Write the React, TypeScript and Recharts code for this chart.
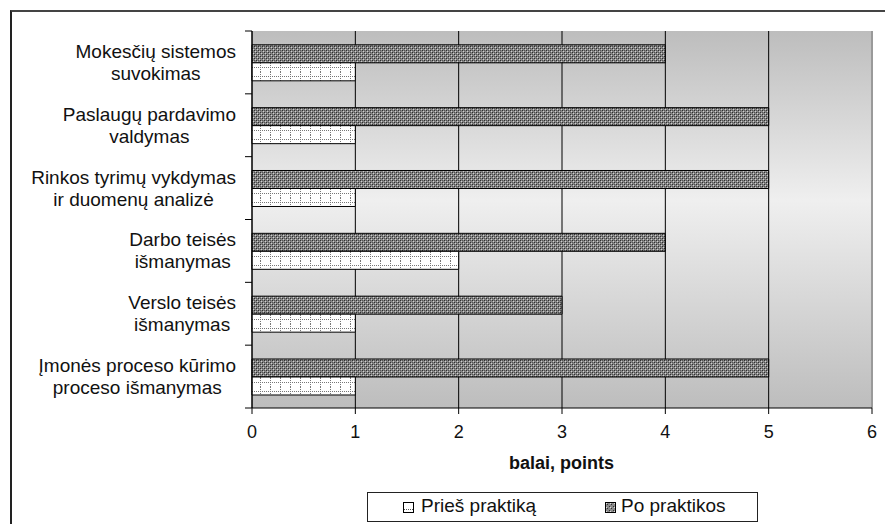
import { BarChart, Bar, XAxis, YAxis, CartesianGrid, ReferenceLine } from 'recharts';

const categories = [
  'Mokesčių sistemos\nsuvokimas',
  'Paslaugų pardavimo\nvaldymas',
  'Rinkos tyrimų vykdymas\nir duomenų analizė',
  'Darbo teisės\nišmanymas',
  'Verslo teisės\nišmanymas',
  'Įmonės proceso kūrimo\nproceso išmanymas',
];
const poPraktikos = [4, 5, 5, 4, 3, 5];
const priesPraktika = [1, 1, 1, 2, 1, 1];
const xTicks = [0, 1, 2, 3, 4, 5, 6];

const data = categories.map((name, i) => ({
  name,
  po: poPraktikos[i],
  pries: priesPraktika[i],
}));

const FONT = '"Liberation Sans", Arial, sans-serif';
const W = 885;
const H = 524;
const PLOT_TOP = 31;
const PLOT_BOTTOM = 408;
const Y_AXIS_W = 252;
const BAND = (PLOT_BOTTOM - PLOT_TOP) / categories.length;

let ctx: CanvasRenderingContext2D | null = null;
function textWidth(s: string) {
  if (!ctx) ctx = document.createElement('canvas').getContext('2d');
  if (!ctx) return s.length * 8;
  ctx.font = '19px "Liberation Sans", Arial';
  return ctx.measureText(s).width;
}

function CategoryTick(props: any) {
  const { y, payload } = props;
  const lines = String(payload.value).split('\n');
  const maxW = Math.max(...lines.map(textWidth));
  const right = Y_AXIS_W - 16;
  const cx = right - maxW / 2;
  return (
    <g>
      <line x1={Y_AXIS_W - 7} x2={Y_AXIS_W} y1={y - BAND / 2} y2={y - BAND / 2} stroke="#000" />
      {payload.index === categories.length - 1 && (
        <line x1={Y_AXIS_W - 7} x2={Y_AXIS_W} y1={y + BAND / 2} y2={y + BAND / 2} stroke="#000" />
      )}
      {lines.map((l, i) => (
        <text
          key={i}
          x={cx}
          y={y + (i - (lines.length - 1) / 2) * 22}
          textAnchor="middle"
          dominantBaseline="central"
          fontSize={19}
          fontFamily={FONT}
          fill="#111"
        >
          {l}
        </text>
      ))}
    </g>
  );
}

function Swatch({ kind }: { kind: 'pries' | 'po' }) {
  return (
    <svg width={11} height={11} style={{ display: 'block' }}>
      <defs>
        <pattern id={`sw-${kind}`} width={4} height={4} patternUnits="userSpaceOnUse">
          {kind === 'po' ? (
            <>
              <rect width={4} height={4} fill="#8a8a8a" />
              <rect x={0} y={0} width={1} height={1} fill="#333" />
              <rect x={2} y={2} width={1} height={1} fill="#333" />
              <rect x={1} y={1} width={1} height={1} fill="#ddd" />
            </>
          ) : (
            <rect width={4} height={4} fill="#fff" />
          )}
        </pattern>
      </defs>
      <rect x={0.5} y={0.5} width={10} height={10} fill={`url(#sw-${kind})`} stroke="#000" />
      {kind === 'pries' && <line x1={1} x2={10} y1={7.5} y2={7.5} stroke="#555" strokeDasharray="1 1" />}
    </svg>
  );
}

export default function App() {
  return (
    <div style={{ position: 'absolute', left: 0, top: 0, width: W, height: H, background: '#fff', fontFamily: FONT }}>
      <div
        style={{
          position: 'absolute',
          left: 10,
          top: 10,
          right: 0,
          bottom: 0,
          borderTop: '2px solid #444',
          borderLeft: '2px solid #222',
        }}
      />
      <div style={{ position: 'absolute', left: 0, top: 0 }}>
        <BarChart
          width={W}
          height={H}
          data={data}
          layout="vertical"
          margin={{ top: PLOT_TOP, right: 13, left: 0, bottom: 76 }}
          barCategoryGap="22%"
          barGap={0}
        >
          <defs>
            <linearGradient id="bgGrad" x1="0" y1="0" x2="0" y2="1">
              <stop offset="0" stopColor="#bdbdbd" />
              <stop offset="0.45" stopColor="#efefef" />
              <stop offset="1" stopColor="#bdbdbd" />
            </linearGradient>
            <pattern id="poPat" width={4} height={4} patternUnits="userSpaceOnUse">
              <rect width={4} height={4} fill="#858585" />
              <rect x={0} y={0} width={1} height={1} fill="#2e2e2e" />
              <rect x={2} y={2} width={1} height={1} fill="#2e2e2e" />
              <rect x={1} y={1} width={1} height={1} fill="#cfcfcf" />
              <rect x={3} y={3} width={1} height={1} fill="#cfcfcf" />
              <rect x={2} y={0} width={1} height={1} fill="#555" />
              <rect x={0} y={2} width={1} height={1} fill="#555" />
            </pattern>
            <pattern id="priesPat" width={10} height={9} patternUnits="userSpaceOnUse">
              <rect width={10} height={9} fill="#fff" />
              <line x1={0.5} x2={0.5} y1={0} y2={9} stroke="#777" strokeDasharray="1 1" />
              <line x1={0} x2={10} y1={4.5} y2={4.5} stroke="#777" strokeDasharray="1 1" />
            </pattern>
          </defs>
          <CartesianGrid horizontal={false} stroke="#000" fill="url(#bgGrad)" fillOpacity={1} />
          <XAxis
            type="number"
            domain={[0, 6]}
            ticks={xTicks}
            interval={0}
            height={40}
            axisLine={{ stroke: '#000' }}
            tickLine={{ stroke: '#000' }}
            tickSize={6}
            tickMargin={11}
            tick={{ fontSize: 18, fontFamily: FONT, fill: '#111' }}
          />
          <YAxis
            type="category"
            dataKey="name"
            width={Y_AXIS_W}
            axisLine={{ stroke: '#000' }}
            tickLine={false}
            interval={0}
            tick={<CategoryTick />}
          />
          <ReferenceLine x={6} stroke="#9a9a9a" strokeWidth={2} />
          <Bar dataKey="po" name="Po praktikos" fill="url(#poPat)" stroke="#000" strokeWidth={1} isAnimationActive={false} />
          <Bar dataKey="pries" name="Prieš praktiką" fill="url(#priesPat)" stroke="#000" strokeWidth={1} isAnimationActive={false} />
        </BarChart>
      </div>
      <div
        style={{
          position: 'absolute',
          left: 0,
          top: 452,
          width: 1123,
          textAlign: 'center',
          fontSize: 18,
          fontWeight: 'bold',
          color: '#111',
          lineHeight: '22px',
        }}
      >
        balai, points
      </div>
      <div
        style={{
          position: 'absolute',
          left: 367,
          top: 492,
          width: 389,
          height: 28,
          border: '1.5px solid #222',
          fontSize: 19,
          color: '#111',
        }}
      >
        <div style={{ position: 'absolute', left: 35, top: 9 }}>
          <Swatch kind="pries" />
        </div>
        <div style={{ position: 'absolute', left: 53, top: 2, lineHeight: '22px' }}>Prieš praktiką</div>
        <div style={{ position: 'absolute', left: 237, top: 9 }}>
          <Swatch kind="po" />
        </div>
        <div style={{ position: 'absolute', left: 253, top: 2, lineHeight: '22px' }}>Po praktikos</div>
      </div>
    </div>
  );
}
